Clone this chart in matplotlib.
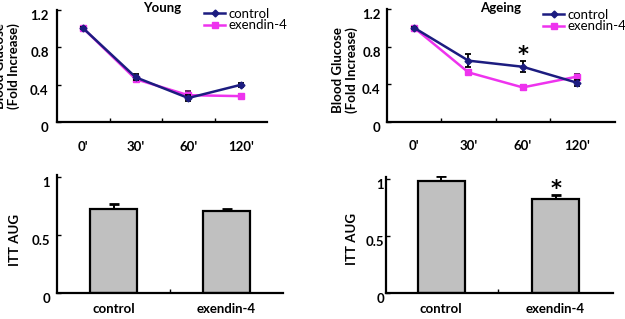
import matplotlib
matplotlib.use('Agg')
import matplotlib.pyplot as plt
from matplotlib.transforms import ScaledTranslation

# ---- data ----
times = ["0'", "30'", "60'", "120'"]
young_control = [1.0, 0.48, 0.26, 0.40]
young_control_err = [0.01, 0.03, 0.03, 0.02]
young_exendin = [1.0, 0.46, 0.29, 0.28]
young_exendin_err = [0.01, 0.03, 0.04, 0.02]
ageing_control = [1.0, 0.65, 0.585, 0.415]
ageing_control_err = [0.01, 0.07, 0.06, 0.03]
ageing_exendin = [1.0, 0.525, 0.365, 0.48]
ageing_exendin_err = [0.01, 0.02, 0.025, 0.03]
groups = ['control', 'exendin-4']
young_auc = [0.73, 0.71]
young_auc_err = [0.04, 0.015]
ageing_auc = [0.98, 0.825]
ageing_auc_err = [0.045, 0.03]

W, H = 625, 319
DPI = 100
plt.rcParams['font.family'] = ['Lato', 'DejaVu Sans']
fig = plt.figure(figsize=(W / DPI, H / DPI), dpi=DPI)

NAVY = '#1c1c80'
MAG = '#ee33ee'
FS = 9.5


def px_axes(l, t, r, b):
    return fig.add_axes([l / W, 1 - b / H, (r - l) / W, (b - t) / H])


def style(ax, ypad):
    for s in ['top', 'right']:
        ax.spines[s].set_visible(False)
    for s in ['left', 'bottom']:
        ax.spines[s].set_linewidth(1.6)
    ax.tick_params(axis='y', direction='in', length=3, width=1, pad=ypad,
                   labelsize=FS)
    for lab in ax.get_yticklabels():
        lab.set_fontweight('bold')
        lab.set_transform(lab.get_transform() +
                          ScaledTranslation(0, -5 / DPI, fig.dpi_scale_trans))


def line_panel(ax, ctrl, cerr, exe, eerr, title, xmax, ypad, legx, legy):
    x = [0.5 + i for i in range(len(times))]
    e1 = ax.errorbar(x, ctrl, yerr=cerr, color=NAVY, lw=1.8, marker='D',
                     ms=3.5, ecolor='black', elinewidth=1.3, capsize=2.2,
                     capthick=1.3, zorder=3)
    e2 = ax.errorbar(x, exe, yerr=eerr, color=MAG, lw=1.8, marker='s', ms=4.5,
                     ecolor='#502050', elinewidth=1.3, capsize=2.2,
                     capthick=1.3, zorder=2)
    ax.set_xlim(0, xmax)
    ax.set_ylim(0, 1.2)
    ax.set_yticks([0, 0.4, 0.8, 1.2])
    ax.set_yticklabels(['0', '0.4', '0.8', '1.2'])
    ax.set_xticks(x)
    ax.set_xticklabels(times, fontweight='bold', fontsize=FS)
    ax.set_xticks([1, 2, 3], minor=True)
    ax.tick_params(axis='x', which='major', length=0, pad=13)
    ax.tick_params(axis='x', which='minor', direction='in', length=3, width=1)
    style(ax, ypad)
    ax.set_title(title, fontsize=FS, fontweight='bold', pad=0, y=0.975)
    ax.legend([e1[0], e2[0]], ['control', 'exendin-4'], loc='upper left',
              bbox_to_anchor=(legx / W, 1 - legy / H),
              bbox_transform=fig.transFigure, frameon=False, fontsize=9.5,
              handlelength=1.6, handletextpad=0.25, labelspacing=-0.05,
              borderpad=0, borderaxespad=0)


# ---- top left ----
ax1 = px_axes(57, 9.5, 267, 122.5)
line_panel(ax1, young_control, young_control_err, young_exendin,
           young_exendin_err, 'Young', 4.0, 6, 204, 8)
fig.text(7 / W, 1 - 66 / H, 'Blood Glucose\n(Fold Increase)', rotation=90,
         ha='center', va='center', fontsize=FS, fontweight='bold',
         linespacing=1.2)

# ---- top right ----
ax2 = px_axes(387, 9, 615, 121.7)
line_panel(ax2, ageing_control, ageing_control_err, ageing_exendin,
           ageing_exendin_err, 'Ageing', 4.2, 4.5, 543, 9)
fig.text(345 / W, 1 - 70 / H, 'Blood Glucose\n(Fold Increase)', rotation=90,
         ha='center', va='center', fontsize=FS, fontweight='bold',
         linespacing=1.2)
ax2.text(2.5, ageing_control[2] + ageing_control_err[2] + 0.06, '*',
         ha='center', va='center', fontsize=15, fontweight='bold',
         family='DejaVu Sans')


def bar_panel(ax, vals, errs, xmin, ypad):
    xs = list(range(len(groups)))
    ax.bar(xs, vals, width=0.41, color='#c0c0c0', edgecolor='black',
           linewidth=1.6, zorder=2)
    ax.errorbar(xs, vals, yerr=[[0] * len(vals), errs], fmt='none',
                ecolor='black', elinewidth=1.4, capsize=3.5, capthick=2,
                zorder=1)
    ax.set_xlim(xmin, 1.5)
    ax.set_ylim(0, 1.02)
    ax.set_yticks([0, 0.5, 1])
    ax.set_yticklabels(['0', '0.5', '1'])
    ax.set_xticks(xs)
    ax.set_xticklabels(groups, fontweight='bold', fontsize=FS)
    ax.set_xticks([0.5], minor=True)
    ax.tick_params(axis='x', which='major', length=0, pad=7)
    ax.tick_params(axis='x', which='minor', direction='in', length=3, width=1)
    style(ax, ypad)


# ---- bottom left ----
ax3 = px_axes(57, 175, 283, 293)
bar_panel(ax3, young_auc, young_auc_err, -0.5, 5)
fig.text(15 / W, 1 - 240 / H, 'ITT AUG', rotation=90, ha='center',
         va='center', fontsize=FS, fontweight='bold')

# ---- bottom right ----
ax4 = px_axes(386, 176.5, 613, 293.3)
bar_panel(ax4, ageing_auc, ageing_auc_err, -0.48, 1.5)
fig.text(352 / W, 1 - 239 / H, 'ITT AUG', rotation=90, ha='center',
         va='center', fontsize=FS, fontweight='bold')
ax4.text(1, ageing_auc[1] + ageing_auc_err[1] + 0.055, '*', ha='center',
         va='center', fontsize=15, fontweight='bold', family='DejaVu Sans')

fig.savefig('out.png', dpi=DPI)
